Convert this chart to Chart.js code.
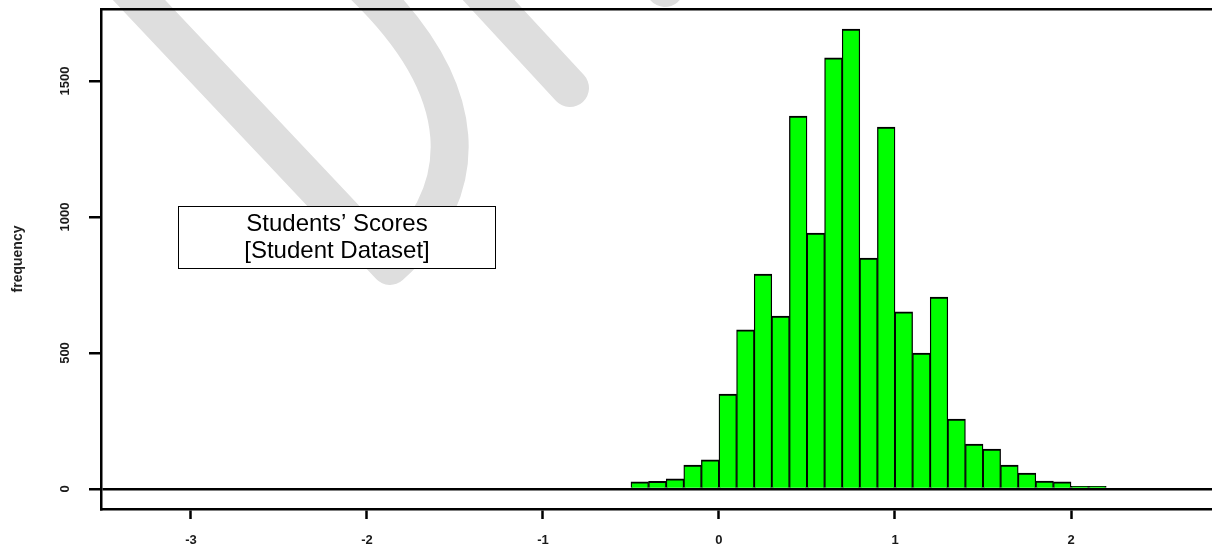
<!DOCTYPE html>
<html>
<head>
<meta charset="utf-8">
<script src="https://cdn.jsdelivr.net/npm/chart.js@4/dist/chart.umd.min.js"></script>
<style>
  html, body { margin: 0; padding: 0; background: #fff; }
  #wrap { width: 1212px; height: 554px; position: relative; }
</style>
</head>
<body>
<div id="wrap"><canvas id="c" width="1212" height="554"></canvas></div>
<script>
// ---- data ----
const binCenters = [-0.45, -0.35, -0.25, -0.15, -0.05, 0.05, 0.15, 0.25, 0.35, 0.45, 0.55, 0.65, 0.75, 0.85, 0.95, 1.05, 1.15, 1.25, 1.35, 1.45, 1.55, 1.65, 1.75, 1.85, 1.95, 2.05, 2.15];
const frequencies = [26, 28, 37, 88, 107, 349, 585, 790, 636, 1371, 941, 1585, 1691, 849, 1331, 651, 500, 706, 257, 165, 147, 88, 59, 29, 26, 10, 10];
const xTickValues = [-3, -2, -1, 0, 1, 2];
const yTickValues = [0, 500, 1000, 1500];
const yTitle = 'frequency';
const boxLines = ['Students’ Scores', '[Student Dataset]'];

const tickFont = { family: '"Liberation Sans", Arial, sans-serif', size: 13, weight: 'bold' };

const watermark = {
  id: 'watermark',
  beforeDraw(chart) {
    const ctx = chart.ctx;
    ctx.save();
    ctx.strokeStyle = 'rgb(222,222,222)';
    ctx.lineWidth = 38;
    ctx.lineCap = 'round';
    ctx.lineJoin = 'round';
    ctx.beginPath();
    ctx.moveTo(122, -18);
    ctx.lineTo(390, 266);
    ctx.bezierCurveTo(474, 190, 474, 90, 360, -18);
    ctx.stroke();
    ctx.beginPath();
    ctx.moveTo(472, -18);
    ctx.lineTo(570, 88);
    ctx.stroke();
    ctx.beginPath();
    ctx.moveTo(640, -40);
    ctx.lineTo(665, -12);
    ctx.stroke();
    ctx.restore();
  }
};

const textBox = {
  id: 'textBox',
  afterDraw(chart) {
    const ctx = chart.ctx;
    ctx.save();
    const bx = 178.5, by = 206.5, bw = 317, bh = 62;
    ctx.fillStyle = '#fff';
    ctx.fillRect(bx, by, bw, bh);
    ctx.strokeStyle = '#000';
    ctx.lineWidth = 1;
    ctx.strokeRect(bx, by, bw, bh);
    ctx.fillStyle = '#000';
    ctx.font = '24px "Liberation Sans", Arial, sans-serif';
    ctx.textAlign = 'center';
    ctx.textBaseline = 'alphabetic';
    ctx.fillText(boxLines[0], bx + bw / 2, 231);
    ctx.fillText(boxLines[1], bx + bw / 2, 258);
    ctx.restore();
  }
};

new Chart(document.getElementById('c'), {
  type: 'bar',
  data: {
    datasets: [{
      data: binCenters.map((x, i) => ({ x: x, y: frequencies[i] })),
      backgroundColor: '#00ff00',
      borderColor: '#000',
      borderWidth: { top: 2, left: 1.3, right: 1.3, bottom: 0 },
      barPercentage: 1,
      categoryPercentage: 1
    }]
  },
  options: {
    responsive: false,
    animation: false,
    events: [],
    layout: { padding: { top: 9, left: 0, right: 0, bottom: 0 } },
    plugins: { legend: { display: false }, tooltip: { enabled: false } },
    scales: {
      x: {
        type: 'linear',
        position: 'bottom',
        offset: false,
        min: -3.511,
        max: 2.801,
        afterBuildTicks: s => { s.ticks = xTickValues.map(v => ({ value: v })); },
        afterFit: s => { s.height = 45; s.paddingLeft = 0; s.paddingRight = 0; },
        ticks: { font: tickFont, color: '#1a1a1a', padding: 14, maxRotation: 0, autoSkip: false, callback: v => String(v) },
        grid: { offset: false, drawOnChartArea: false, drawTicks: true, tickLength: 10, tickColor: '#000', tickWidth: 2.5 },
        border: { display: true, color: '#000', width: 2.5 }
      },
      xTop: {
        type: 'linear',
        position: 'top',
        offset: false,
        min: -3.511,
        max: 2.801,
        afterFit: s => { s.height = 0; s.paddingLeft = 0; s.paddingRight = 0; },
        ticks: { display: false },
        grid: { display: false, drawTicks: false, offset: false },
        border: { display: true, color: '#000', width: 2.5 }
      },
      y: {
        type: 'linear',
        position: 'left',
        min: -73.5,
        max: 1764.7,
        afterBuildTicks: s => { s.ticks = yTickValues.map(v => ({ value: v })); },
        afterFit: s => { s.width = 101; s.paddingTop = 0; s.paddingBottom = 0; },
        ticks: { font: tickFont, color: '#1a1a1a', padding: 9, minRotation: 90, maxRotation: 90, crossAlign: 'center', autoSkip: false, callback: v => String(v) },
        grid: {
          drawOnChartArea: true,
          drawTicks: true,
          tickLength: 12,
          color: c => (c.tick && c.tick.value === 0) ? '#000' : 'rgba(0,0,0,0)',
          lineWidth: 2.5,
          tickColor: '#000',
          tickWidth: 2.5
        },
        border: { display: true, color: '#000', width: 2.5 },
        title: { display: true, text: yTitle, color: '#222', font: { family: '"Liberation Sans", Arial, sans-serif', size: 14, weight: 'bold' }, padding: { top: 10, bottom: 0 } }
      }
    }
  },
  plugins: [watermark, textBox]
});
</script>
</body>
</html>
